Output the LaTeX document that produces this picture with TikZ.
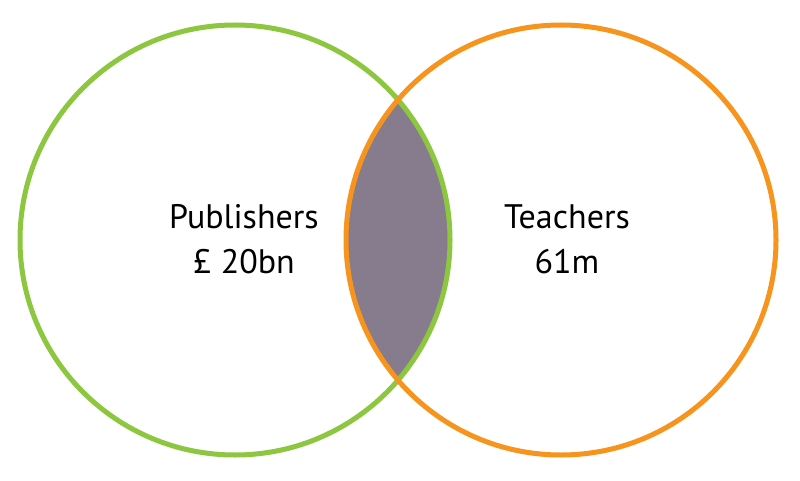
\documentclass[tikz,border=0pt]{standalone}
\usepackage{fontspec}
\setmainfont{PT Sans}
\definecolor{pubgreen}{HTML}{8DC63F}
\definecolor{teachorange}{HTML}{F7941D}
\definecolor{overlap}{HTML}{877B8E}
\begin{document}
\begin{tikzpicture}[x=1pt,y=-1pt,
  ring/.style={line width=5pt},
  label/.style={align=center,font=\fontsize{34}{45}\selectfont,text=black,inner sep=0pt}]
\useasboundingbox (0,0) rectangle (800,481);
\fill[white] (0,0) rectangle (800,481);
% shared region of the two sets
\begin{scope}
  \clip (235,240) circle[radius=215];
  \fill[overlap] (561,240) circle[radius=215];
\end{scope}
\draw[ring,pubgreen] (235,240) circle[radius=215];
\draw[ring,teachorange] (561,240) circle[radius=215];
\node[label] (pub) at (244,239) {Publishers\\£ 20bn};
\node[label] (teach) at (567,239) {Teachers\\61m};
\end{tikzpicture}
\end{document}
